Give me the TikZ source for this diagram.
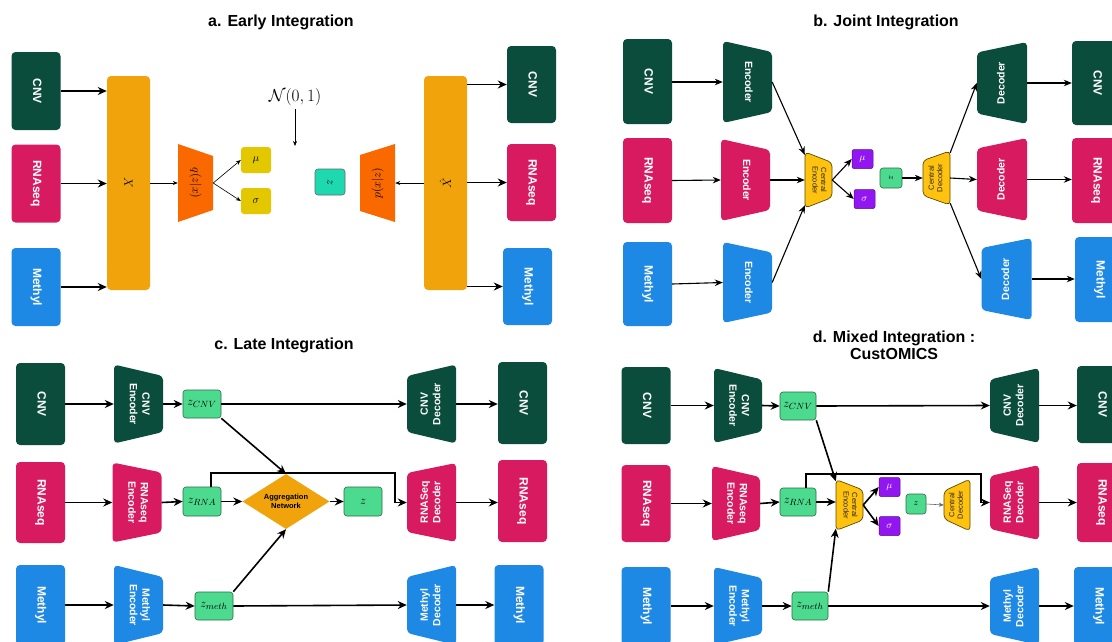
\documentclass[tikz,border=0pt]{standalone}
\usepackage{fontspec}
\usepackage{amsmath}
\usetikzlibrary{arrows.meta,shapes.geometric}
\newfontfamily\sfl{Liberation Sans}

\definecolor{cnvgreen}{HTML}{0B4D3C}
\definecolor{rnapink}{HTML}{D81B60}
\definecolor{methblue}{HTML}{1E88E5}
\definecolor{barorange}{HTML}{F0A30A}
\definecolor{qorange}{HTML}{FA6800}
\definecolor{musigy}{HTML}{E3C800}
\definecolor{zteal}{HTML}{1ED9B0}
\definecolor{zgreen}{HTML}{4CDB8E}
\definecolor{zline}{HTML}{2E6B48}
\definecolor{cyellow}{HTML}{FFC20E}
\definecolor{cline}{HTML}{5C4A00}
\definecolor{violetbox}{HTML}{9116F0}

% vertical label, one or more lines
\newcommand{\vt}[2]{\rotatebox{#1}{\begin{tabular}{@{}c@{}}#2\end{tabular}}}
% trapezoid: name, x, y, width, left height, right height, fill style, node style, text
\newcommand{\trap}[9]{%
  \fill[#7] ({#2-#4/2},{#3-#5/2}) -- ({#2+#4/2},{#3-#6/2})
    -- ({#2+#4/2},{#3+#6/2}) -- ({#2-#4/2},{#3+#5/2}) -- cycle;
  \node[#8, minimum width=#4pt, minimum height={max(#5,#6)}] (#1) at (#2,#3) {#9};}

\tikzset{
  title/.style={font=\sfl\bfseries\fontsize{16}{17}\selectfont, align=center, inner sep=0pt},
  omic/.style={rectangle, rounded corners=4pt, inner sep=0pt, minimum width=49pt,
    text=white, font=\sfl\bfseries\fontsize{12}{14}\selectfont},
  cnv/.style={omic, fill=cnvgreen},
  rna/.style={omic, fill=rnapink},
  meth/.style={omic, fill=methblue},
  bar/.style={fill=barorange, rounded corners=4pt, minimum width=43pt,
    minimum height=214pt, inner sep=0pt, font=\fontsize{12}{14}\selectfont},
  enc/.style={rounded corners=4pt},
  cen/.style={fill=cyellow, draw=cline, line width=0.7pt, rounded corners=4pt},
  trapin/.style={inner sep=0pt, text=white, font=\sfl\bfseries\fontsize{10.5}{12.5}\selectfont},
  cenin/.style={inner sep=0pt, text=black!85, font=\sfl\fontsize{7.5}{8.5}\selectfont},
  mathin/.style={inner sep=0pt, font=\fontsize{12}{14}\selectfont},
  musig/.style={fill=musigy, rounded corners=3pt, minimum width=30pt,
    minimum height=26pt, inner sep=0pt, font=\fontsize{11}{13}\selectfont},
  latent/.style={fill=zgreen, draw=zline, line width=0.6pt, rounded corners=3pt,
    inner sep=0pt, font=\fontsize{12.5}{14}\selectfont},
  pbox/.style={fill=violetbox, draw=violetbox!60!black, line width=0.5pt,
    rounded corners=2pt, minimum width=21pt, minimum height=19pt, inner sep=0pt,
    text=white, font=\fontsize{10}{11}\selectfont},
  arr/.style={-{Stealth[length=9pt,width=8pt]}, line width=1.6pt},
  marr/.style={-{Stealth[length=8pt,width=6.5pt]}, line width=1.1pt},
  tarr/.style={-{Stealth[length=5pt,width=4pt]}, line width=0.6pt},
}

\begin{document}
\begin{tikzpicture}[x=1pt,y=-1pt]
\clip (0,0) rectangle (1112,641);
\fill[white] (0,0) rectangle (1112,641);

% ---------- a. early integration ----------
\node[title] (ta) at (281,22) {a. Early Integration};
\node[cnv, minimum height=78pt] (aCNVin) at (36,91) {\vt{-90}{CNV}};
\node[rna, minimum height=78pt] (aRNAin) at (36,183.5) {\vt{-90}{RNAseq}};
\node[meth, minimum height=78pt] (aMETin) at (36,287) {\vt{-90}{Methyl}};
\node[bar] (aX) at (128.5,183) {\rotatebox{-90}{$X$}};
\trap{aq}{195.5}{183}{35}{78}{54}{fill=qorange}{mathin}{\rotatebox{-90}{$q(z|x)$}}
\node[musig] (amu) at (256,160) {$\mu$};
\node[musig] (asig) at (256,201) {$\sigma$};
\node[font=\fontsize{19}{21}\selectfont] (aN) at (295,97) {$\mathcal{N}(0,1)$};
\coordinate (aNend) at (295,146);
\node[fill=zteal, draw=black!60, line width=0.6pt, rounded corners=3pt, minimum width=30pt,
  minimum height=26pt, inner sep=0pt, font=\fontsize{12}{14}\selectfont] (az) at (330,182) {\rotatebox{-90}{$z$}};
\trap{ap}{377.5}{183}{35}{56}{78}{fill=qorange}{mathin}{\rotatebox{90}{$p(x|z)$}}
\node[bar] (aXh) at (445.5,183) {\rotatebox{90}{$\hat{X}$}};
\node[cnv, minimum height=77pt] (aCNVout) at (531.5,84.5) {\vt{-90}{CNV}};
\node[rna, minimum height=77pt] (aRNAout) at (531.5,182.5) {\vt{-90}{RNAseq}};
\node[meth, minimum height=77pt] (aMETout) at (527.5,286.5) {\vt{-90}{Methyl}};

\draw[arr] (aCNVin.east) -- (aCNVin.east -| aX.west);
\draw[arr] (aRNAin.east) -- (aRNAin.east -| aX.west);
\draw[arr] (aMETin.east) -- (aMETin.east -| aX.west);
\draw[tarr] (aX.east) -- (aq.west);
\draw[tarr] (aq.east) -- (amu.west);
\draw[tarr] (aq.east) -- (asig.west);
\draw[tarr] (aN.south) -- (aNend);
\draw[tarr] (aXh.west) -- (ap.east);
\draw[arr] (aXh.east |- aCNVout.west) -- (aCNVout.west);
\draw[arr] (aXh.east |- aRNAout.west) -- (aRNAout.west);
\draw[arr] (aXh.east |- aMETout.west) -- (aMETout.west);

% ---------- b. joint integration ----------
\node[title] (tb) at (886,22) {b. Joint Integration};
\node[cnv, minimum height=85pt] (bCNVin) at (647.5,81.5) {\vt{-90}{CNV}};
\node[rna, minimum height=85pt] (bRNAin) at (647.5,180.5) {\vt{-90}{RNAseq}};
\node[meth, minimum height=84pt] (bMETin) at (647.5,284) {\vt{-90}{Methyl}};
\trap{bEncC}{747.5}{82}{49}{82}{60}{enc, fill=cnvgreen}{trapin}{\vt{-90}{Encoder}}
\trap{bEncR}{745.5}{180}{49}{82}{60}{enc, fill=rnapink}{trapin}{\vt{-90}{Encoder}}
\trap{bEncM}{747.5}{282.5}{49}{81}{60}{enc, fill=methblue}{trapin}{\vt{-90}{Encoder}}
\trap{bCenc}{818.5}{180}{27}{56}{35}{cen}{cenin}{\vt{-90}{Central\\Encoder}}
\node[pbox] (bmu) at (862.5,159) {$\mu$};
\node[pbox] (bsig) at (864.5,199) {$\sigma$};
\node[latent, minimum width=22pt, minimum height=20pt, font=\fontsize{9}{10}\selectfont] (bz) at (891,178) {\rotatebox{-90}{$z$}};
\trap{bCdec}{936.5}{178}{27}{35}{54}{cen}{cenin}{\vt{90}{Central\\Decoder}}
\trap{bDecC}{1002}{83}{50}{61}{82}{enc, fill=cnvgreen}{trapin}{\vt{90}{Decoder}}
\trap{bDecR}{1002}{179.5}{50}{62}{83}{enc, fill=rnapink}{trapin}{\vt{90}{Decoder}}
\trap{bDecM}{1006.5}{279}{50}{62}{82}{enc, fill=methblue}{trapin}{\vt{90}{Decoder}}
\node[cnv, minimum height=84pt] (bCNVout) at (1096.5,83) {\vt{-90}{CNV}};
\node[rna, minimum height=85pt] (bRNAout) at (1096.5,180.5) {\vt{-90}{RNAseq}};
\node[meth, minimum height=85pt] (bMETout) at (1099.5,279.5) {\vt{-90}{Methyl}};

\draw[marr] (bCNVin.east |- bEncC.west) -- (bEncC.west);
\draw[marr] (bRNAin.east) -- (bEncR.west);
\draw[marr] (bMETin.east) -- (bEncM.west);
\draw[marr] (bEncC.east) -- ([yshift=-3pt]bCenc.north west);
\draw[marr] (bEncR.east) -- (bCenc.west);
\draw[marr] (bEncM.east) -- ([yshift=3pt]bCenc.south west);
\draw[marr] (bCenc.east) -- (bmu.west);
\draw[marr] (bCenc.east) -- (bsig.west);
\draw[marr] (bz.east) -- (bCdec.west);
\draw[marr] ([yshift=-2pt]bCdec.north east) -- (bDecC.west);
\draw[marr] (bCdec.east) -- (bDecR.west);
\draw[marr] ([yshift=2pt]bCdec.south east) -- (bDecM.west);
\draw[marr] (bDecC.east) -- (bDecC.east -| bCNVout.west);
\draw[marr] (bDecR.east) -- (bDecR.east -| bRNAout.west);
\draw[marr] (bDecM.east) -- (bDecM.east -| bMETout.west);

% ---------- c. late integration ----------
\node[title] (tc) at (284,345) {c. Late Integration};
\node[cnv, minimum height=82pt] (cCNVin) at (40.5,404) {\vt{-90}{CNV}};
\node[rna, minimum height=81pt] (cRNAin) at (40.5,502.5) {\vt{-90}{RNAseq}};
\node[meth, minimum height=80pt] (cMETin) at (40.5,605) {\vt{-90}{Methyl}};
\trap{cEncC}{138.5}{404}{49}{79}{56}{enc, fill=cnvgreen}{trapin}{\vt{-90}{CNV\\Encoder}}
\trap{cEncR}{137}{502.5}{49}{80}{60}{enc, fill=rnapink}{trapin}{\vt{-90}{RNAseq\\Encoder}}
\trap{cEncM}{138.5}{605}{49}{80}{56}{enc, fill=methblue}{trapin}{\vt{-90}{Methyl\\Encoder}}
\node[latent, minimum width=38pt, minimum height=28pt] (czC) at (202,404) {$z_{CNV}$};
\node[latent, minimum width=38pt, minimum height=29pt] (czR) at (202,501.5) {$z_{RNA}$};
\node[latent, minimum width=38pt, minimum height=28pt] (czM) at (214,606) {$z_{meth}$};
\node[diamond, fill=barorange, minimum width=87pt, minimum height=55pt, inner sep=0pt,
  aspect=1.6, align=center, font=\sfl\bfseries\fontsize{7.5}{9}\selectfont] (cagg) at (286,501.5) {Aggregation\\Network};
\node[latent, minimum width=38pt, minimum height=29pt] (cz) at (363,501.5) {$z$};
\trap{cDecC}{431.5}{404}{49}{56}{79}{enc, fill=cnvgreen}{trapin}{\vt{90}{CNV\\Decoder}}
\trap{cDecR}{431.5}{502.5}{49}{59}{79}{enc, fill=rnapink}{trapin}{\vt{90}{RNASeq\\Decoder}}
\trap{cDecM}{431.5}{605}{49}{56}{80}{enc, fill=methblue}{trapin}{\vt{90}{Methyl\\Decoder}}
\node[cnv, minimum height=82pt] (cCNVout) at (522.5,403) {\vt{-90}{CNV}};
\node[rna, minimum height=82pt] (cRNAout) at (522.5,501) {\vt{-90}{RNAseq}};
\node[meth, minimum height=80pt] (cMETout) at (519,605) {\vt{-90}{Methyl}};
\coordinate (cby) at (395,473);

\draw[arr] (cCNVin.east) -- (cEncC.west);
\draw[arr] (cEncC.east) -- (czC.west);
\draw[arr] (czC.east) -- (cDecC.west);
\draw[arr] (cDecC.east) -- (cDecC.east -| cCNVout.west);
\draw[arr] (czC.south east) -- (cagg.north);
\draw[arr] (cRNAin.east) -- (cEncR.west);
\draw[arr] (cEncR.east) -- (czR.west);
\draw[arr] (czR.east) -- (cagg.west);
\draw[arr] (cagg.east) -- (cz.west);
\draw[arr] ([xshift=9pt]czR.north) |- (cby) |- (cDecR.west);
\draw[arr] (cDecR.east) -- (cDecR.east -| cRNAout.west);
\draw[arr] (cMETin.east) -- (cEncM.west);
\draw[arr] (cEncM.east) -- (czM.west);
\draw[arr] (czM.east) -- (cDecM.west);
\draw[arr] (cDecM.east) -- (cDecM.east -| cMETout.west);
\draw[arr] (czM.north east) -- (cagg.south);

% ---------- d. mixed integration ----------
\node[title] (td) at (894,345) {d. Mixed Integration :\\CustOMICS};
\node[cnv, minimum height=77pt] (dCNVin) at (646,405.5) {\vt{-90}{CNV}};
\node[rna, minimum height=77pt] (dRNAin) at (646,503.5) {\vt{-90}{RNAseq}};
\node[meth, minimum height=78pt] (dMETin) at (646,606) {\vt{-90}{Methyl}};
\trap{dEncC}{738}{405.5}{48}{75}{52}{enc, fill=cnvgreen}{trapin}{\vt{-90}{CNV\\Encoder}}
\trap{dEncR}{736}{503.5}{48}{75}{53}{enc, fill=rnapink}{trapin}{\vt{-90}{RNAseq\\Encoder}}
\trap{dEncM}{738}{606}{48}{78}{56}{enc, fill=methblue}{trapin}{\vt{-90}{Methyl\\Encoder}}
\node[latent, minimum width=36pt, minimum height=28pt] (dzC) at (798,406) {$z_{CNV}$};
\node[latent, minimum width=36pt, minimum height=28pt] (dzR) at (798,502) {$z_{RNA}$};
\node[latent, minimum width=36pt, minimum height=28pt] (dzM) at (810,606) {$z_{meth}$};
\trap{dCenc}{849.5}{505}{27}{51}{30}{cen}{cenin}{\vt{-90}{Central\\Encoder}}
\node[pbox] (dmu) at (889.5,487) {$\mu$};
\node[pbox] (dsig) at (889.5,526) {$\sigma$};
\node[latent, minimum width=20pt, minimum height=20pt, font=\fontsize{9}{10}\selectfont] (dz) at (916,504) {$z$};
\trap{dCdec}{957}{505}{26}{28}{52}{cen}{cenin}{\vt{90}{Central\\Decoder}}
\trap{dDecC}{1014.5}{405.5}{49}{52}{75}{enc, fill=cnvgreen}{trapin}{\vt{90}{CNV\\Decoder}}
\trap{dDecR}{1014.5}{502.5}{49}{53}{75}{enc, fill=rnapink}{trapin}{\vt{90}{RNASeq\\Decoder}}
\trap{dDecM}{1014.5}{606}{49}{56}{78}{enc, fill=methblue}{trapin}{\vt{90}{Methyl\\Decoder}}
\node[cnv, minimum height=77pt] (dCNVout) at (1101.5,404.5) {\vt{-90}{CNV}};
\node[rna, minimum height=79pt] (dRNAout) at (1101.5,502.5) {\vt{-90}{RNAseq}};
\node[meth, minimum height=78pt] (dMETout) at (1098.5,606) {\vt{-90}{Methyl}};
\coordinate (dby) at (981,474);

\draw[arr] (dCNVin.east) -- (dEncC.west);
\draw[arr] (dEncC.east) -- (dzC.west);
\draw[arr] (dzC.east) -- (dDecC.west);
\draw[arr] (dDecC.east) -- (dDecC.east -| dCNVout.west);
\draw[arr] (dzC.south east) -- ([yshift=-2pt]dCenc.north west);
\draw[arr] (dRNAin.east) -- (dEncR.west);
\draw[arr] (dEncR.east) -- (dzR.west);
\draw[arr] (dzR.east) -- (dCenc.west |- dzR.east);
\draw[arr] (dCenc.east) -- (dmu.west);
\draw[arr] (dCenc.east) -- (dsig.west);
\draw[tarr, black!60] (dz.east) -- (dCdec.west);
\draw[arr] ([xshift=8pt]dzR.north) |- (dby) |- (dDecR.west);
\draw[arr] (dDecR.east) -- (dDecR.east -| dRNAout.west);
\draw[arr] (dMETin.east) -- (dEncM.west);
\draw[arr] (dEncM.east) -- (dzM.west);
\draw[arr] (dzM.east) -- (dDecM.west);
\draw[arr] (dDecM.east) -- (dDecM.east -| dMETout.west);
\draw[arr] (dzM.north east) -- ([yshift=2pt]dCenc.south west);
\end{tikzpicture}
\end{document}
